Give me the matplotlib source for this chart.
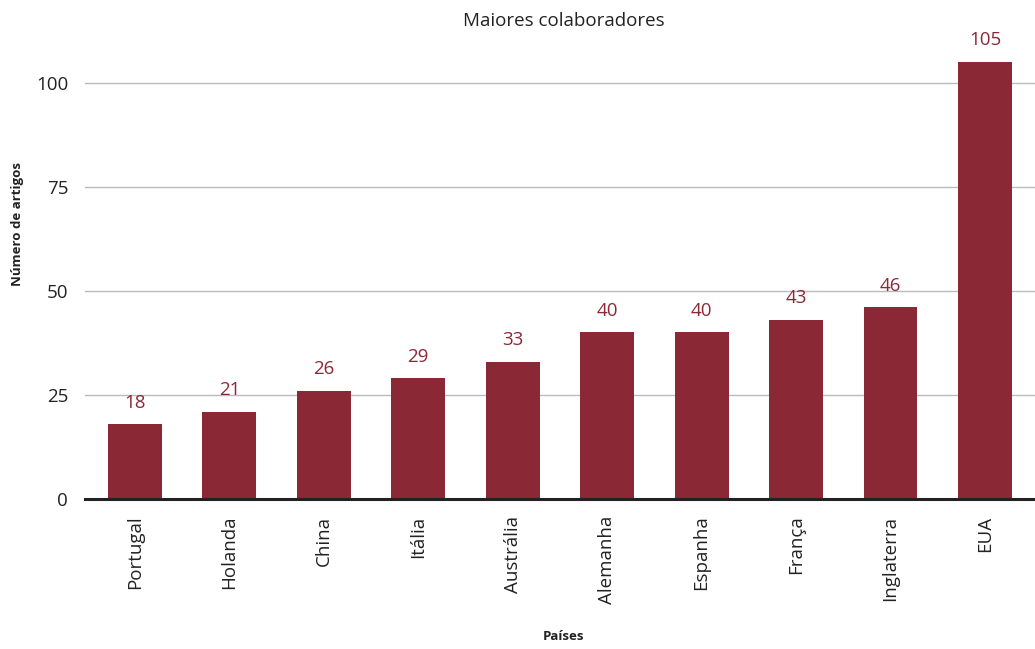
import matplotlib
matplotlib.use("Agg")
import matplotlib.pyplot as plt

paises = ["Portugal", "Holanda", "China", "Itália", "Austrália",
          "Alemanha", "Espanha", "França", "Inglaterra", "EUA"]
artigos = [18, 21, 26, 29, 33, 40, 40, 43, 46, 105]
yticks = [0, 25, 50, 75, 100]

cor = "#8B2836"
plt.rcParams["font.family"] = ["Open Sans", "DejaVu Sans"]

fig = plt.figure(figsize=(10.35, 6.49), dpi=100)
ax = fig.add_axes([0.082, 0.231, 0.918, 0.706])

x = range(len(paises))
ax.bar(x, artigos, width=0.57, color=cor, zorder=3)
for i, v in zip(x, artigos):
    ax.text(i, v + 3.0, str(v), ha="center", va="bottom", color=cor, fontsize=13.5)

ax.set_xlim(-0.53, 9.53)
ax.set_ylim(0, 110)
ax.set_yticks(yticks)
ax.set_xticks(list(x))
ax.set_xticklabels(paises, rotation=90, fontsize=13.5, color="#222222")
ax.tick_params(axis="y", length=0, labelsize=13.5, labelcolor="#222222", pad=12)
ax.tick_params(axis="x", length=0, pad=12)
ax.grid(axis="y", color="#BBBBBB", linewidth=1, zorder=0)

for s in ["top", "right", "left"]:
    ax.spines[s].set_visible(False)
ax.spines["bottom"].set_color("#222222")
ax.spines["bottom"].set_linewidth(2.2)
ax.spines["bottom"].set_zorder(4)

fig.text(0.545, 0.968, "Maiores colaboradores", ha="center", va="center",
         fontsize=13.5, color="#222222")
fig.text(0.017, 0.655, "Número de artigos", rotation=90, ha="center", va="center",
         fontsize=9.5, fontweight="bold", color="#222222")
fig.text(0.544, 0.009, "Países", ha="center", va="bottom",
         fontsize=9.5, fontweight="bold", color="#222222")

fig.savefig("out.png", dpi=100)
